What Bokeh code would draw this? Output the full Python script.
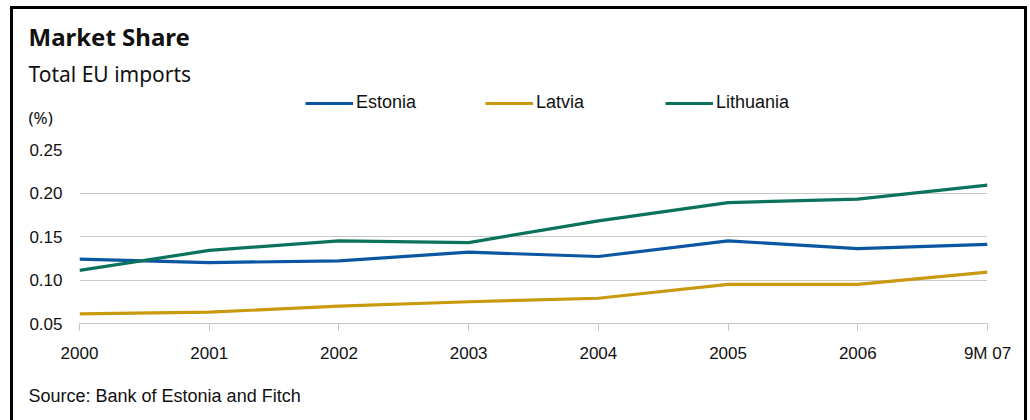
from bokeh.plotting import figure
from bokeh.layouts import column
from bokeh.models import Range1d, FixedTicker, Legend, LegendItem, Label
from bokeh.embed import file_html
from bokeh.resources import INLINE

# ---- data ----
periods = ["2000", "2001", "2002", "2003", "2004", "2005", "2006", "9M 07"]
estonia = [0.124, 0.120, 0.122, 0.132, 0.127, 0.145, 0.136, 0.141]
latvia = [0.061, 0.063, 0.070, 0.075, 0.079, 0.095, 0.095, 0.109]
lithuania = [0.111, 0.134, 0.145, 0.143, 0.168, 0.189, 0.193, 0.209]
y_ticks = [0.05, 0.10, 0.15, 0.20, 0.25]
y_tick_labels = ["0.05", "0.10", "0.15", "0.20", "0.25"]
series_names = ["Estonia", "Latvia", "Lithuania"]
series_colors = ["#0A56A2", "#C99A0E", "#0B725E"]
title_text = "Market Share"
subtitle_text = "Total EU imports"
unit_text = "(%)"
source_text = "Source: Bank of Estonia and Fitch"

x_idx = list(range(len(periods)))
series_values = [estonia, latvia, lithuania]

W = 1011                 # inner width (inside the black frame)
HEAD_H, MAIN_H, FOOT_H = 120, 241, 50
TXT = "#111111"
NAN = float("nan")


def blank(h):
    f = figure(width=W, height=h, output_backend="svg", toolbar_location=None,
               x_range=Range1d(0, W), y_range=Range1d(h, 0),
               x_axis_type=None, y_axis_type=None,
               min_border=0, min_border_left=0, min_border_right=0,
               min_border_top=0, min_border_bottom=0,
               background_fill_color="white", border_fill_color="white")
    f.outline_line_color = None
    f.grid.visible = False
    f.frame_align = False
    return f


# ---------------- header: titles + legend ----------------
head = blank(HEAD_H)
head.add_layout(Label(x=15, y=26.5, text=title_text, text_font="Noto Sans",
                      text_font_style="bold", text_font_size="24px",
                      text_color=TXT, text_baseline="alphabetic"))
head.add_layout(Label(x=15, y=64, text=subtitle_text, text_font="Noto Sans",
                      text_font_size="21px", text_color=TXT,
                      text_baseline="alphabetic"))
head.add_layout(Label(x=15, y=107.5, text=unit_text, text_font="Noto Sans",
                      text_font_size="17px", text_color=TXT,
                      text_baseline="alphabetic"))

# legend proxies: carry the line style only (no visible points)
proxies = [head.line(x=[NAN], y=[NAN], line_color=c, line_width=3.2) for c in series_colors]
legend = Legend(items=[LegendItem(label=n, renderers=[r]) for n, r in zip(series_names, proxies)],
                location=(292, 16), orientation="horizontal", padding=0, margin=0,
                spacing=0, border_line_color=None, background_fill_alpha=0,
                glyph_width=48, glyph_height=20, label_standoff=3,
                label_width=129, label_height=20,
                label_text_font="Liberation Sans", label_text_font_size="18px",
                label_text_color=TXT)
head.add_layout(legend, "center")

# ---------------- main chart ----------------
fl, fr, ft, fb = 66, 974, 20, 194   # frame edges inside the main figure
p = figure(width=W, height=MAIN_H, output_backend="svg", toolbar_location=None,
           x_range=Range1d(x_idx[0], x_idx[-1]),
           y_range=Range1d(y_ticks[0], y_ticks[-1]),
           min_border_left=fl, min_border_right=W - fr,
           min_border_top=ft, min_border_bottom=MAIN_H - fb,
           background_fill_color="white", border_fill_color="white")
p.outline_line_color = None
p.frame_align = False

for vals, col in zip(series_values, series_colors):
    p.line(x_idx, vals, line_color=col, line_width=3.2, line_join="round")

xa = p.xaxis[0]
xa.ticker = FixedTicker(ticks=x_idx)
xa.major_label_overrides = {i: lab for i, lab in zip(x_idx, periods)}
xa.axis_line_color = "#C4C4C4"
xa.major_tick_line_color = "#C4C4C4"
xa.major_tick_out = 7
xa.major_tick_in = 0
xa.minor_tick_line_color = None
xa.major_label_text_font = "Liberation Sans"
xa.major_label_text_font_size = "17px"
xa.major_label_text_color = TXT
xa.major_label_standoff = 13

ya = p.yaxis[0]
ya.ticker = FixedTicker(ticks=y_ticks)
ya.major_label_overrides = {t: s for t, s in zip(y_ticks, y_tick_labels)}
ya.axis_line_color = None
ya.major_tick_line_color = None
ya.minor_tick_line_color = None
ya.major_label_text_font = "Liberation Sans"
ya.major_label_text_font_size = "17px"
ya.major_label_text_color = TXT
ya.major_label_standoff = 11

p.xgrid.grid_line_color = None
p.ygrid.grid_line_color = "#C8C8C8"
p.ygrid.grid_line_width = 1.2

# ---------------- footer: source ----------------
foot = blank(FOOT_H)
foot.add_layout(Label(x=15, y=25.5, text=source_text, text_font="Liberation Sans",
                      text_font_size="18px", text_color=TXT,
                      text_baseline="alphabetic"))

layout = column(head, p, foot, spacing=0)
layout.margin = (6, 0, 0, 10)
layout.styles = {"border-top": "3px solid black", "border-left": "3px solid black",
                 "border-right": "3px solid black"}

open("out.html", "w").write(file_html(layout, INLINE))
